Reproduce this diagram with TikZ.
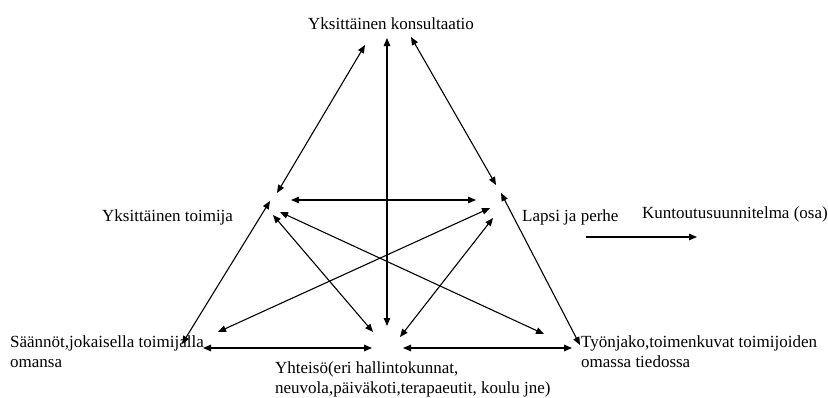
\documentclass[tikz,border=0pt]{standalone}
\usepackage{fontspec}
\setmainfont{Liberation Serif}
\usetikzlibrary{arrows.meta}
\begin{document}
\begin{tikzpicture}[x=1pt,y=-1pt,
  lbl/.style={inner sep=0pt,anchor=base west,align=left,
    font=\fontsize{17}{19.5}\selectfont},
  link/.style={line width=1.1pt,
    {Triangle[length=8pt,width=6.5pt]}-{Triangle[length=8pt,width=6.5pt]}},
  flow/.style={line width=1.1pt,-{Triangle[length=8pt,width=6.5pt]}}]
\useasboundingbox (0,0) rectangle (828,397);

% labels (multi-line labels are placed by the baseline of their last line)
\node[lbl] (kons) at (308,29) {Yksittäinen konsultaatio};
\node[lbl] (toim) at (102,221) {Yksittäinen toimija};
\node[lbl] (laps) at (522,221) {Lapsi ja perhe};
\node[lbl] (kunt) at (642,218) {Kuntoutusuunnitelma (osa)};
\node[lbl] (saan) at (10,367) {Säännöt,jokaisella toimijalla\\omansa};
\node[lbl] (yht)  at (275,393) {Yhteisö(eri hallintokunnat,\\neuvola,päiväkoti,terapaeutit, koulu jne)};
\node[lbl] (tyon) at (581,367) {Työnjako,toimenkuvat toimijoiden\\omassa tiedossa};

% arrow end points around the labels
\coordinate (kA) at (365,45);
\coordinate (kB) at (387,38);
\coordinate (kC) at (411,37);
\coordinate (tA) at (277,193);
\coordinate (tD) at (291,200);
\coordinate (tE) at (280,212);
\coordinate (tF) at (273,215);
\coordinate (tI) at (270,201);
\coordinate (lC) at (496,185);
\coordinate (lD) at (476,200);
\coordinate (lJ) at (501,193);
\coordinate (lG) at (490,208);
\coordinate (lH) at (493,218);
\coordinate (yB) at (387,326);
\coordinate (yF) at (373,332);
\coordinate (yH) at (400,337);
\coordinate (yK) at (372,348);
\coordinate (yL) at (403,348);
\coordinate (sG) at (218,332);
\coordinate (sI) at (182,344);
\coordinate (sK) at (203,348);
\coordinate (wE) at (544,334);
\coordinate (wJ) at (580,345);
\coordinate (wL) at (572,348);
\coordinate (kuA) at (586,237);
\coordinate (kuB) at (697,237);

% connections
\draw[link] (kA) -- (tA);
\draw[link] (kB) -- (yB);
\draw[link] (kC) -- (lC);
\draw[link] (tD) -- (lD);
\draw[link] (tE) -- (wE);
\draw[link] (tF) -- (yF);
\draw[link] (lG) -- (sG);
\draw[link] (lH) -- (yH);
\draw[link] (tI) -- (sI);
\draw[link] (lJ) -- (wJ);
\draw[link] (sK) -- (yK);
\draw[link] (yL) -- (wL);
\draw[flow] (kuA) -- (kuB);
\end{tikzpicture}
\end{document}
